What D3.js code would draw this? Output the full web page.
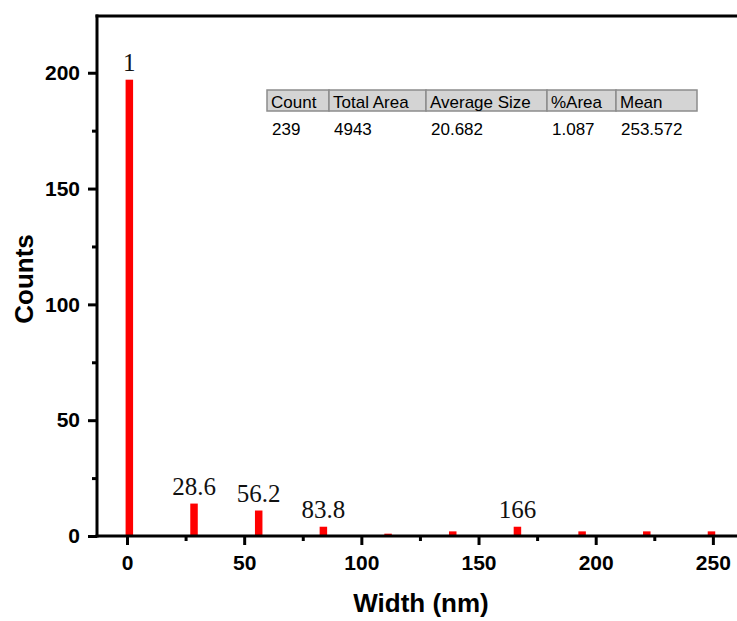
<!DOCTYPE html>
<html>
<head>
<meta charset="utf-8">
<script src="https://cdn.jsdelivr.net/npm/d3@7"></script>
<style>
  body { margin: 0; background: #fff; }
</style>
</head>
<body>
<script>
// histogram data (bin centres in nm, counts)
var binCenters = [1, 28.6, 56.2, 83.8, 111.4, 139, 166.6, 194.2, 221.8, 249.4];
var binCounts = [197, 14, 11, 4, 1, 2, 4, 2, 2, 2];

// peak annotations
var peakLabels = ['1', '28.6', '56.2', '83.8', '166'];
var peakIndex = [0, 1, 2, 3, 6];

// tick values
var xMajorTicks = [0, 50, 100, 150, 200, 250];
var xMinorTicks = [25, 75, 125, 175, 225];
var yMajorTicks = [0, 50, 100, 150, 200];
var yMinorTicks = [25, 75, 125, 175];

// summary table
var tableHeaders = ['Count', 'Total Area', 'Average Size', '%Area', 'Mean'];
var tableValues = ['239', '4943', '20.682', '1.087', '253.572'];

var width = 737,
    height = 621;

var svg = d3.select('body')
    .append('svg')
    .attr('width', width)
    .attr('height', height)
    .style('display', 'block');

// scales
var x = d3.scaleLinear().domain([-12.8, 262]).range([97, 741]);
var y = d3.scaleLinear().domain([0, 224.5]).range([536, 16]);

var barHalf = 1.6;

// bars
svg.append('g').selectAll('rect')
    .data(binCenters)
    .enter()
    .append('rect')
    .attr('x', function (d) { return x(d - barHalf); })
    .attr('width', function (d) { return x(d + barHalf) - x(d - barHalf); })
    .attr('y', function (d, i) { return y(binCounts[i]); })
    .attr('height', function (d, i) { return y(0) - y(binCounts[i]); })
    .attr('fill', '#ff0000');

// peak labels
svg.append('g').selectAll('text')
    .data(peakLabels)
    .enter()
    .append('text')
    .attr('x', function (d, i) { return x(binCenters[peakIndex[i]]); })
    .attr('y', function (d, i) { return y(binCounts[peakIndex[i]]) - 9; })
    .attr('text-anchor', 'middle')
    .attr('font-family', '"Liberation Serif", "Times New Roman", serif')
    .attr('font-size', '25px')
    .attr('fill', '#111')
    .text(function (d) { return d; });

// axes
function styleAxis(g) {
    g.select('.domain').remove();
    g.selectAll('.tick line').attr('stroke', '#000').attr('stroke-width', 3);
    g.selectAll('.tick text')
        .attr('font-family', '"Liberation Sans", Arial, sans-serif')
        .attr('font-weight', 'bold')
        .attr('font-size', '21px')
        .attr('fill', '#000');
}

svg.append('g')
    .attr('transform', 'translate(0,' + y(0) + ')')
    .call(d3.axisBottom(x).tickValues(xMajorTicks).tickSize(9).tickPadding(10))
    .call(styleAxis);

svg.append('g')
    .attr('transform', 'translate(0,' + y(0) + ')')
    .call(d3.axisBottom(x).tickValues(xMinorTicks).tickSize(5).tickFormat(''))
    .call(styleAxis);

svg.append('g')
    .attr('transform', 'translate(' + x(-12.8) + ',0)')
    .call(d3.axisLeft(y).tickValues(yMajorTicks).tickSize(9).tickPadding(8))
    .call(styleAxis);

svg.append('g')
    .attr('transform', 'translate(' + x(-12.8) + ',0)')
    .call(d3.axisLeft(y).tickValues(yMinorTicks).tickSize(5).tickFormat(''))
    .call(styleAxis);

// frame: bottom, left, top
svg.append('line')
    .attr('x1', x(-12.8) - 1.5).attr('x2', width)
    .attr('y1', y(0)).attr('y2', y(0))
    .attr('stroke', '#000').attr('stroke-width', 3);
svg.append('line')
    .attr('x1', x(-12.8)).attr('x2', x(-12.8))
    .attr('y1', y(224.5) - 1.5).attr('y2', y(0) + 1.5)
    .attr('stroke', '#000').attr('stroke-width', 3);
svg.append('line')
    .attr('x1', x(-12.8) - 1.5).attr('x2', width)
    .attr('y1', y(224.5)).attr('y2', y(224.5))
    .attr('stroke', '#000').attr('stroke-width', 3);

// axis titles
svg.append('text')
    .attr('x', 421)
    .attr('y', 612)
    .attr('text-anchor', 'middle')
    .attr('font-family', '"Liberation Sans", Arial, sans-serif')
    .attr('font-weight', 'bold')
    .attr('font-size', '26px')
    .text('Width (nm)');

svg.append('text')
    .attr('transform', 'translate(33,279) rotate(-90)')
    .attr('text-anchor', 'middle')
    .attr('font-family', '"Liberation Sans", Arial, sans-serif')
    .attr('font-weight', 'bold')
    .attr('font-size', '26px')
    .text('Counts');

// summary table
var colEdges = [267, 329, 426, 547, 616, 697];
var table = svg.append('g');

table.selectAll('rect.head')
    .data(tableHeaders)
    .enter()
    .append('rect')
    .attr('class', 'head')
    .attr('x', function (d, i) { return colEdges[i]; })
    .attr('y', 90)
    .attr('width', function (d, i) { return colEdges[i + 1] - colEdges[i]; })
    .attr('height', 21)
    .attr('fill', '#d4d4d4')
    .attr('stroke', '#8c8c8c')
    .attr('stroke-width', 1.5);

table.selectAll('text.head')
    .data(tableHeaders)
    .enter()
    .append('text')
    .attr('class', 'head')
    .attr('x', function (d, i) { return colEdges[i] + 4; })
    .attr('y', 108)
    .attr('font-family', '"Liberation Sans", Arial, sans-serif')
    .attr('font-size', '17px')
    .attr('fill', '#000')
    .text(function (d) { return d; });

table.selectAll('text.val')
    .data(tableValues)
    .enter()
    .append('text')
    .attr('class', 'val')
    .attr('x', function (d, i) { return colEdges[i] + 5; })
    .attr('y', 135)
    .attr('font-family', '"Liberation Sans", Arial, sans-serif')
    .attr('font-size', '17px')
    .attr('fill', '#000')
    .text(function (d) { return d; });
</script>
</body>
</html>
